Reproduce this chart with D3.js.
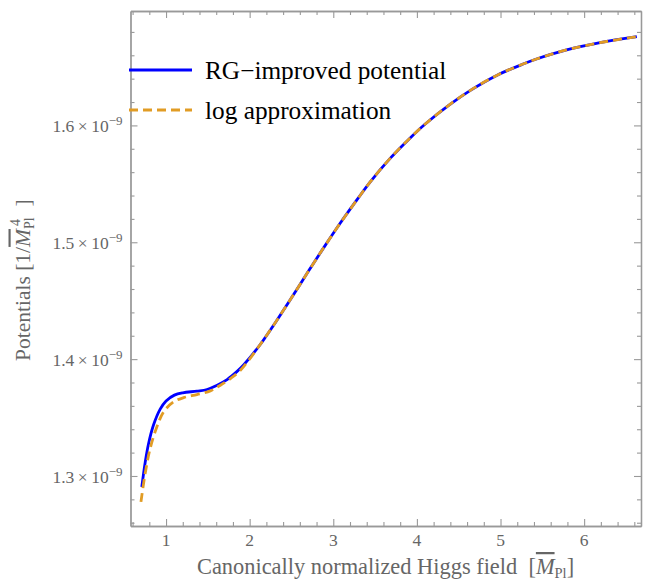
<!DOCTYPE html>
<html>
<head>
<meta charset="utf-8">
<script src="https://cdn.jsdelivr.net/npm/d3@7"></script>
<style>
  body { margin: 0; background: #fff; }
  svg text { font-family: "Liberation Serif", "Times New Roman", serif; }
</style>
</head>
<body>
<div id="chart"></div>
<script>
// potentials in units of 1e-9 (1/Mpl^4), field in Mpl
const fieldRG = [0.71, 0.75, 0.79, 0.85, 0.93, 1.0, 1.1, 1.2, 1.37, 1.49, 1.6, 1.73, 1.85, 1.93,
  2.12, 2.32, 2.52, 2.7, 2.9, 3.08, 3.28, 3.44, 3.68, 3.92, 4.1, 4.38, 4.64, 4.96, 5.27, 5.43,
  5.79, 6.19, 6.63];
const potentialRG = [1.2906, 1.3114, 1.3274, 1.3436, 1.3572, 1.3642, 1.3692, 1.3712, 1.3726, 1.374,
  1.3773, 1.3825, 1.3895, 1.3952, 1.4119, 1.4327, 1.4547, 1.4749, 1.4969, 1.516, 1.536, 1.5515,
  1.5718, 1.5893, 1.6012, 1.6172, 1.63, 1.643, 1.6525, 1.6568, 1.6646, 1.6708, 1.6759];

const fieldLog = [0.70, 0.75, 0.81, 0.89, 0.97, 1.09, 1.21, 1.37, 1.53, 1.65, 1.77, 1.89,
  2.12, 2.32, 2.52, 2.7, 2.9, 3.08, 3.28, 3.44, 3.68, 3.92, 4.1, 4.38, 4.64, 4.96, 5.27, 5.43,
  5.79, 6.19, 6.63];
const potentialLog = [1.2778, 1.302, 1.3235, 1.342, 1.3548, 1.3634, 1.367, 1.3697, 1.3728, 1.3777,
  1.3834, 1.3905, 1.4119, 1.4327, 1.4547, 1.4749, 1.4969, 1.516, 1.536, 1.5515, 1.5718, 1.5893,
  1.6012, 1.6172, 1.63, 1.643, 1.6525, 1.6568, 1.6646, 1.6708, 1.6759];

const xMajorTicks = [1, 2, 3, 4, 5, 6];
const yMajorTicks = [1.3, 1.4, 1.5, 1.6];
const yTickMantissa = ["1.3", "1.4", "1.5", "1.6"];

const seriesNames = ["RG\u2212improved potential", "log approximation"];
const seriesColors = ["#0000ff", "#e19c24"];

const width = 645;
const height = 580;
const padding = { top: 11, bottom: 54, left: 130.5, right: 4 };
const chartWidth = width - padding.left - padding.right;
const chartHeight = height - padding.top - padding.bottom;

const frameColor = "#999";
const labelColor = "#666";

const xScale = d3.scaleLinear([0.575, 6.68], [0, chartWidth]);
const yScale = d3.scaleLinear([1.2572, 1.6979], [chartHeight, 0]);

const xMinor = d3.range(0.6, 6.7, 0.2).map((d) => +d.toFixed(1))
  .filter((d) => !xMajorTicks.includes(d));
const yMinor = d3.range(1.26, 1.7, 0.02).map((d) => +d.toFixed(2))
  .filter((d) => !yMajorTicks.some((t) => Math.abs(t - d) < 1e-6));

const svg = d3.select("#chart").append("svg")
  .attr("width", width).attr("height", height)
  .attr("viewBox", `0 0 ${width} ${height}`);

const chart = svg.append("g")
  .attr("transform", `translate(${padding.left}, ${padding.top})`);

// frame with inward ticks on all four sides
function frameAxis(axisFn, scale, values, size, transform) {
  const g = chart.append("g")
    .attr("transform", transform)
    .call(axisFn(scale).tickValues(values).tickSize(-size).tickSizeOuter(0).tickFormat(""));
  g.select(".domain").attr("stroke", frameColor).attr("stroke-width", 1.3);
  g.selectAll(".tick line").attr("stroke", frameColor).attr("stroke-width", 1.1);
  return g;
}

const sides = [
  [d3.axisBottom, xScale, `translate(0, ${chartHeight})`],
  [d3.axisTop, xScale, "translate(0, 0)"],
  [d3.axisLeft, yScale, "translate(0, 0)"],
  [d3.axisRight, yScale, `translate(${chartWidth}, 0)`],
];
sides.forEach(([fn, scale, tr]) => {
  const isX = scale === xScale;
  frameAxis(fn, scale, isX ? xMajorTicks : yMajorTicks, 7, tr);
  frameAxis(fn, scale, isX ? xMinor : yMinor, 4, tr);
});

// tick labels
chart.append("g").selectAll("text")
  .data(xMajorTicks)
  .join("text")
  .attr("x", (d) => xScale(d))
  .attr("y", chartHeight + 19.5)
  .attr("text-anchor", "middle")
  .attr("fill", labelColor)
  .style("font-size", "17.5px")
  .text((d) => d);

const yLabels = chart.append("g").selectAll("text")
  .data(yMajorTicks)
  .join("text")
  .attr("x", -8)
  .attr("y", (d) => yScale(d) + 7)
  .attr("text-anchor", "end")
  .attr("fill", labelColor)
  .style("font-size", "17.5px");
yLabels.append("tspan").text((d, i) => yTickMantissa[i] + "\u2009\u00d7\u200910");
yLabels.append("tspan").attr("dy", -7).style("font-size", "13px").text("\u22129");

// curves
const line = d3.line()
  .x((d) => xScale(d[0]))
  .y((d) => yScale(d[1]))
  .curve(d3.curveCatmullRom.alpha(0.5));

const rgPoints = d3.zip(fieldRG, potentialRG);
const logPoints = d3.zip(fieldLog, potentialLog);

chart.append("path")
  .datum(rgPoints)
  .attr("d", line)
  .attr("fill", "none")
  .attr("stroke", seriesColors[0])
  .attr("stroke-width", 2.8);

chart.append("path")
  .datum(logPoints)
  .attr("d", line)
  .attr("fill", "none")
  .attr("stroke", seriesColors[1])
  .attr("stroke-width", 2.8)
  .attr("stroke-dasharray", "9,5");

// legend
const legend = svg.append("g").attr("transform", "translate(129, 70)");
seriesNames.forEach((name, i) => {
  const row = legend.append("g").attr("transform", `translate(0, ${i * 40})`);
  row.append("line")
    .attr("x1", 0).attr("x2", 63)
    .attr("stroke", seriesColors[i])
    .attr("stroke-width", 2.8)
    .attr("stroke-dasharray", i === 1 ? "9,5" : null);
  row.append("text")
    .attr("x", 76)
    .attr("y", 8.5)
    .attr("fill", "#000")
    .style("font-size", "25.3px")
    .text(name);
});

// axis titles
const xTitle = svg.append("text")
  .attr("x", 197)
  .attr("y", 574)
  .attr("fill", labelColor)
  .style("font-size", "22.4px");
xTitle.append("tspan").text("Canonically normalized Higgs field\u00a0\u00a0[");
xTitle.append("tspan").style("font-style", "italic").style("text-decoration", "overline").text("M");
xTitle.append("tspan").attr("dy", 4).style("font-size", "14.5px").text("Pl");
xTitle.append("tspan").attr("dy", -4).text("]");

const yTitle = svg.append("text")
  .attr("transform", "translate(29.5, 361) rotate(-90)")
  .attr("fill", labelColor)
  .style("font-size", "21.5px");
yTitle.append("tspan").text("Potentials [1/");
yTitle.append("tspan").style("font-style", "italic").style("text-decoration", "overline").text("M");
const plSub = yTitle.append("tspan").attr("dy", 4).style("font-size", "14px").text("Pl");
// exponent sits above the subscript
const plWidth = plSub.node().getComputedTextLength();
const expo = yTitle.append("tspan").attr("dx", -plWidth + 3).attr("dy", -14).style("font-size", "14px").text("4");
const expoWidth = expo.node().getComputedTextLength();
yTitle.append("tspan").attr("dx", plWidth - expoWidth - 3).attr("dy", 10).text("\u00a0\u00a0]");
</script>
</body>
</html>
